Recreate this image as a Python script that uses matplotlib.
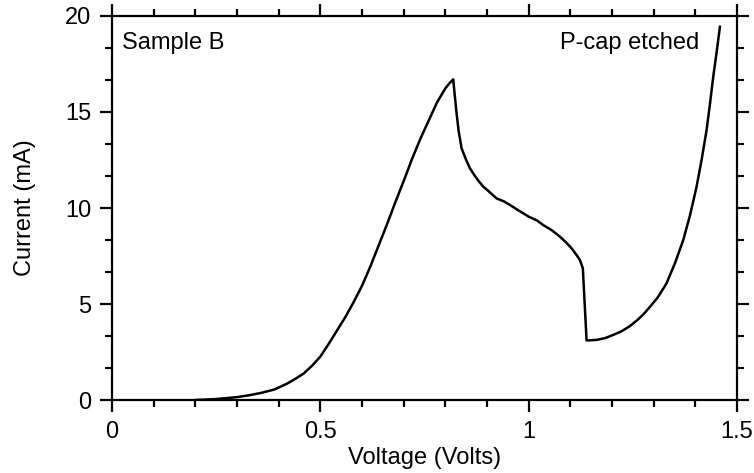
import numpy as np
import matplotlib
matplotlib.use("Agg")
import matplotlib.pyplot as plt
from matplotlib.ticker import MultipleLocator

# I-V curve
voltage = [0.200, 0.250, 0.300, 0.330, 0.360, 0.390, 0.420, 0.440, 0.460, 0.480,
           0.500, 0.520, 0.540, 0.560, 0.580, 0.600, 0.620, 0.640, 0.660, 0.680,
           0.700, 0.720, 0.740, 0.760, 0.780, 0.800, 0.810, 0.819,
           0.822, 0.827, 0.832, 0.839, 0.850, 0.859, 0.870, 0.880, 0.891, 0.900,
           0.910, 0.923, 0.940, 0.955, 0.970, 0.985, 1.000, 1.020, 1.035, 1.055,
           1.075, 1.090, 1.103, 1.115, 1.123, 1.130,
           1.139, 1.163, 1.183, 1.203, 1.223, 1.243, 1.260, 1.275, 1.291, 1.310,
           1.331, 1.351, 1.371, 1.387, 1.403, 1.415, 1.427, 1.435, 1.443, 1.451,
           1.459]
current = [0.00, 0.05, 0.15, 0.25, 0.38, 0.55, 0.85, 1.10, 1.38, 1.78,
           2.26, 2.92, 3.62, 4.32, 5.10, 5.95, 6.95, 8.05, 9.15, 10.30,
           11.40, 12.55, 13.60, 14.55, 15.50, 16.23, 16.50, 16.70,
           16.00, 14.93, 14.00, 13.11, 12.50, 12.07, 11.70, 11.40, 11.11, 10.95,
           10.75, 10.50, 10.35, 10.16, 9.95, 9.75, 9.55, 9.35, 9.11, 8.85,
           8.51, 8.20, 7.90, 7.55, 7.29, 6.86,
           3.10, 3.13, 3.22, 3.39, 3.58, 3.85, 4.15, 4.45, 4.85, 5.35,
           6.08, 7.12, 8.33, 9.60, 11.11, 12.50, 14.06, 15.40, 16.84, 18.10,
           19.44]

x_ticks = [0, 0.5, 1, 1.5]
x_tick_labels = ["0", "0.5", "1", "1.5"]
y_ticks = [0, 5, 10, 15, 20]

FONT = "Liberation Sans"
FS = 17

fig = plt.figure(figsize=(7.54, 4.73), dpi=100)
ax = fig.add_axes([112 / 754, 1 - 400 / 473, 625 / 754, 384 / 473])

ax.plot(voltage, current, color="black", linewidth=1.8, solid_joinstyle="round")

ax.set_xlim(0, 1.5)
ax.set_ylim(0, 20)
ax.set_xticks(x_ticks)
ax.set_xticklabels(x_tick_labels)
ax.set_yticks(y_ticks)
ax.xaxis.set_minor_locator(MultipleLocator(0.1))
ax.yaxis.set_minor_locator(MultipleLocator(5 / 3))

for s in ax.spines.values():
    s.set_linewidth(1.6)

ax.tick_params(which="both", direction="out", top=True, right=True,
               width=1.6, labelsize=FS, pad=6.5)
ax.tick_params(which="major", length=8.5)
ax.tick_params(which="minor", length=5)
ax.tick_params(labeltop=False, labelright=False)
for lab in ax.get_xticklabels() + ax.get_yticklabels():
    lab.set_fontfamily(FONT)

ax.set_xlabel("Voltage (Volts)", fontsize=FS, family=FONT, labelpad=3)
ax.set_ylabel("Current (mA)", fontsize=FS, family=FONT, labelpad=21)

ax.text(0.016, 0.93, "Sample B", transform=ax.transAxes, fontsize=FS,
        family=FONT, ha="left", va="center")
ax.text(0.939, 0.93, "P-cap etched", transform=ax.transAxes, fontsize=FS,
        family=FONT, ha="right", va="center")

fig.savefig("out.png", dpi=100, facecolor="white")
